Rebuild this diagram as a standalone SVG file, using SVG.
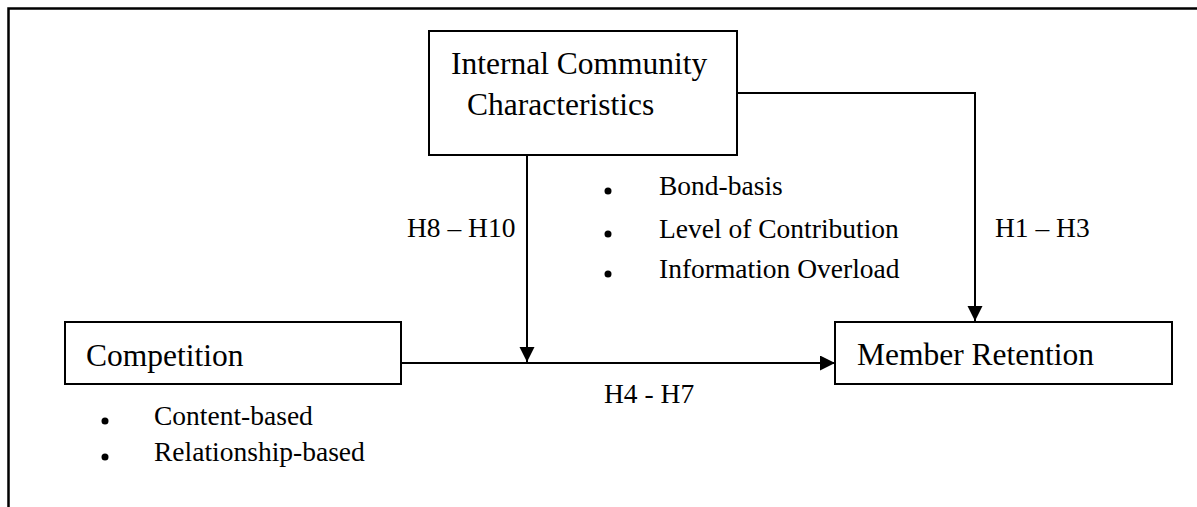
<svg xmlns="http://www.w3.org/2000/svg" width="1197" height="507" viewBox="0 0 1197 507">
<style>
.box{fill:#fff;stroke:#000;stroke-width:2}
.title{font-family:"Liberation Serif","Times New Roman",serif;font-size:31.5px;fill:#000}
.lbl{font-family:"Liberation Serif","Times New Roman",serif;font-size:27.5px;fill:#000}
.con{fill:none;stroke:#000;stroke-width:2}
.dot{fill:#000}
</style>
<defs>
<marker id="arr" markerUnits="userSpaceOnUse" markerWidth="16" markerHeight="16" refX="15" refY="7.5" orient="auto">
<path d="M0,0 L15,7.5 L0,15 z" fill="#000"/>
</marker>
</defs>
<rect width="1197" height="507" fill="#fff"/>
<path d="M1197,8.5 L8.5,8.5 L8.5,507" fill="none" stroke="#000" stroke-width="2.5"/>
<g id="connectors">
<path class="con" d="M737,93 L975,93 L975,321" marker-end="url(#arr)"/>
<path class="con" d="M527,155 L527,362" marker-end="url(#arr)"/>
<path class="con" d="M401,363 L835,363" marker-end="url(#arr)"/>
<text class="lbl" x="407" y="237">H8 – H10</text>
<text class="lbl" x="995" y="237">H1 – H3</text>
<text class="lbl" x="604" y="403">H4 - H7</text>
</g>
<g id="internal">
<rect class="box" x="429" y="31" width="308" height="124"/>
<text class="title" x="451" y="74">Internal Community</text>
<text class="title" x="467" y="115">Characteristics</text>
<circle class="dot" cx="608" cy="191" r="3.5"/>
<circle class="dot" cx="608" cy="234" r="3.5"/>
<circle class="dot" cx="608" cy="274" r="3.5"/>
<text class="lbl" x="659" y="195">Bond-basis</text>
<text class="lbl" x="659" y="238">Level of Contribution</text>
<text class="lbl" x="659" y="278">Information Overload</text>
</g>
<g id="competition">
<rect class="box" x="65" y="322" width="336" height="62"/>
<text class="title" x="86" y="366">Competition</text>
<circle class="dot" cx="105" cy="421" r="3.5"/>
<circle class="dot" cx="105" cy="457" r="3.5"/>
<text class="lbl" x="154" y="425">Content-based</text>
<text class="lbl" x="154" y="461">Relationship-based</text>
</g>
<g id="retention">
<rect class="box" x="835" y="322" width="337" height="62"/>
<text class="title" x="857" y="365">Member Retention</text>
</g>
</svg>
